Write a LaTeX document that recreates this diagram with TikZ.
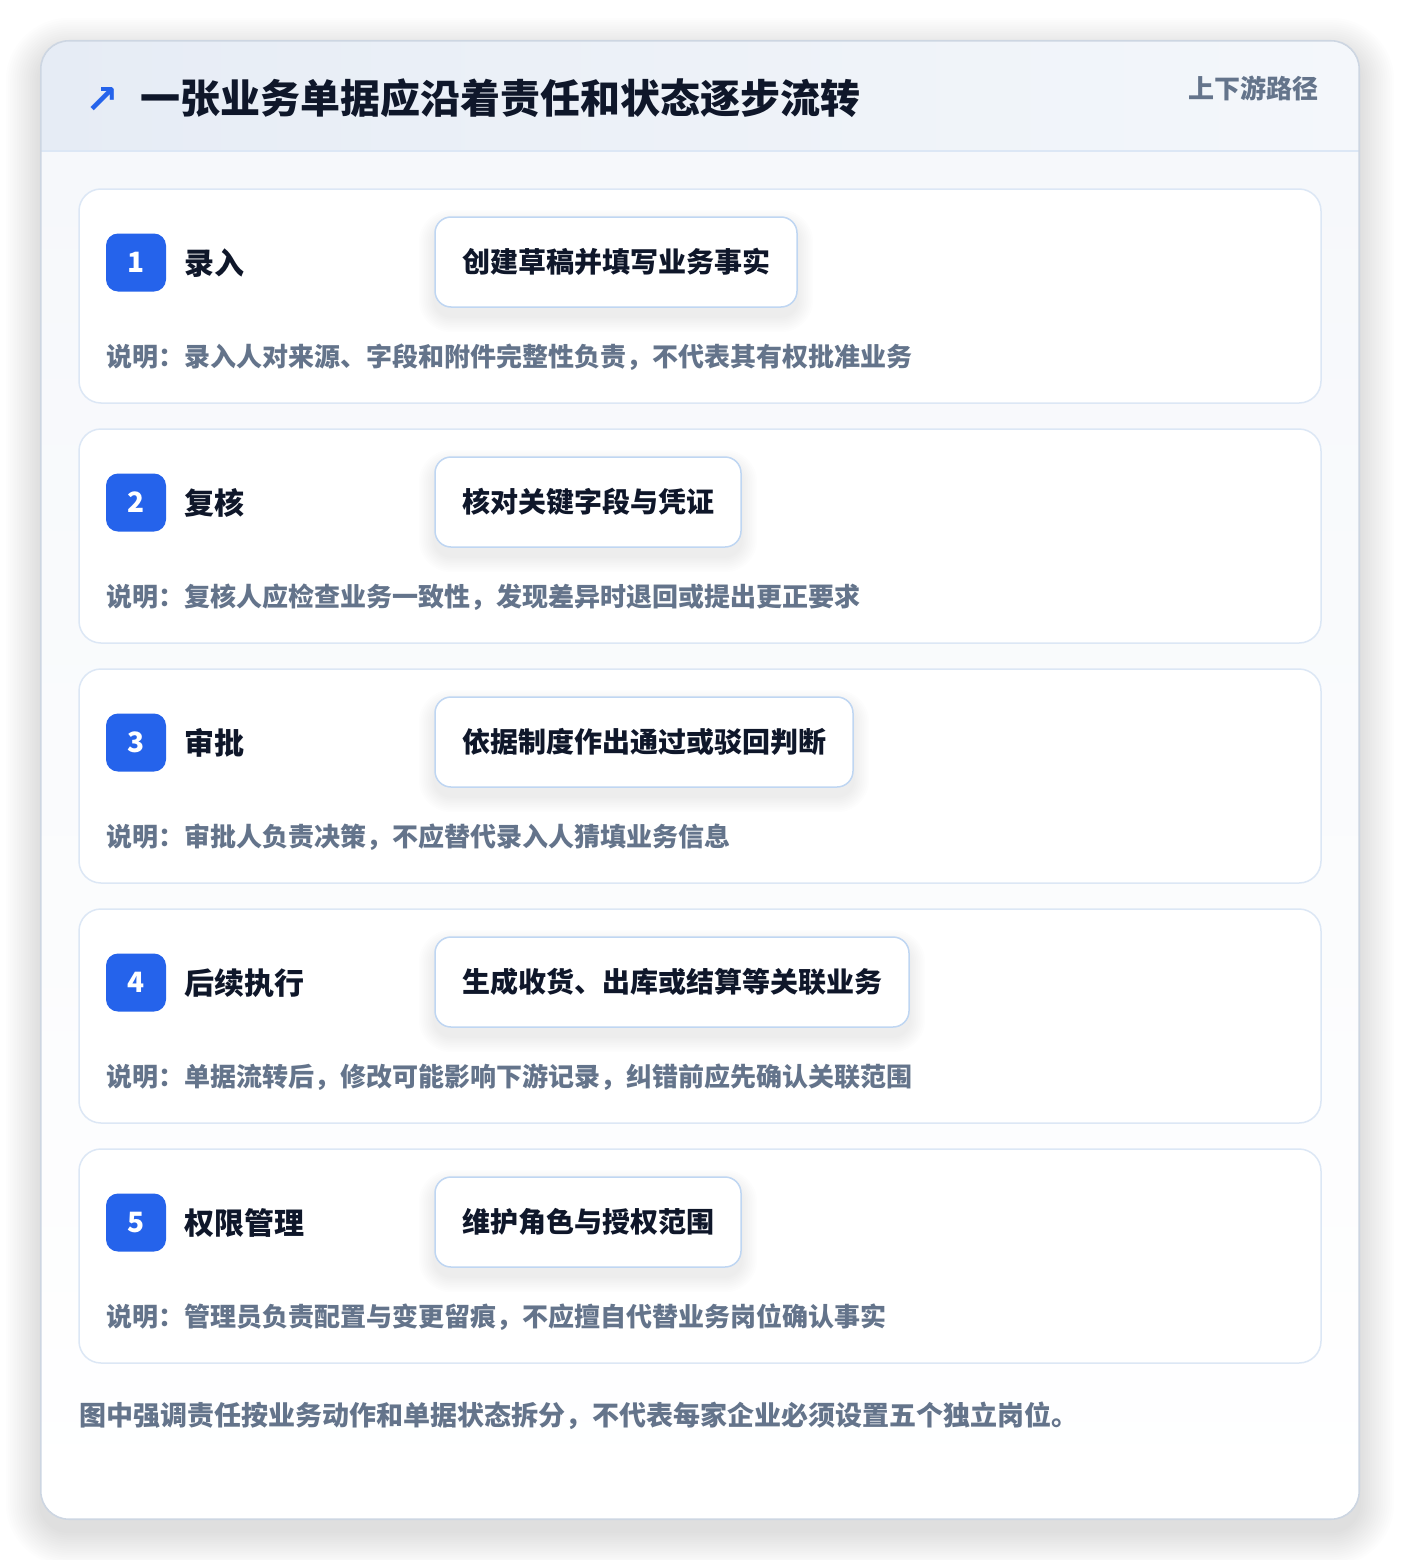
\documentclass[tikz,border=0pt]{standalone}
\usepackage{fontspec}
\setmainfont{Noto Sans CJK SC}
\newfontfamily\heavyfont{Noto Sans CJK SC Black}
\newfontfamily\arrowfont{DejaVu Sans}
\usetikzlibrary{calc}
\definecolor{ink}{HTML}{0F172A}
\definecolor{muted}{HTML}{64748B}
\definecolor{brand}{HTML}{2563EB}
\definecolor{cardline}{HTML}{DCE7F5}
\definecolor{boxline}{HTML}{BFD6F2}
\definecolor{outerline}{HTML}{CDD6E2}
\definecolor{headA}{HTML}{E6ECF5}
\definecolor{headB}{HTML}{F4F7FB}
\definecolor{bodyA}{HTML}{F6F8FB}
\definecolor{shadowc}{HTML}{1E293B}
\pgfdeclarelayer{back}
\pgfdeclarelayer{shade}
\pgfsetlayers{back,shade,main}
\tikzset{
  txt/.style={inner sep=0pt, outer sep=0pt},
  stepcard/.style={rectangle, rounded corners=22pt, draw=cardline, line width=1.5pt, fill=white,
    minimum width=1242pt, minimum height=214pt, inner sep=0pt},
  badge/.style={txt, rectangle, rounded corners=12pt, fill=brand, text=white,
    text height=20.4pt, text depth=0pt,
    minimum width=60pt, minimum height=58pt, font=\fontsize{28}{32}\selectfont\heavyfont},
  steplabel/.style={txt, text=ink, text height=24.9pt, text depth=2.1pt,
    font=\fontsize{30}{36}\selectfont\heavyfont},
  actbox/.style={txt, rectangle, rounded corners=16pt, draw=boxline, line width=1.5pt, fill=white,
    text height=23.2pt, text depth=2pt,
    inner xsep=27pt, minimum height=90pt, text=ink, font=\fontsize{28}{34}\selectfont\bfseries},
  notetext/.style={txt, text=muted, text height=21.6pt, text depth=1.8pt,
    font=\fontsize{26}{32}\selectfont\bfseries},
}
\begin{document}
\begin{tikzpicture}[x=1pt,y=-1pt]
\useasboundingbox (0,0) rectangle (1400,1560);
\begin{pgfonlayer}{back}
\fill[white] (0,0) rectangle (1400,1560);
% outer shadow
\foreach \i [evaluate=\i as \r using 28+2.2*\i] in {1,...,16}
  \fill[shadowc, opacity=0.006, rounded corners=\r pt]
    (41-2.2*\i, 41-2.2*\i+12) rectangle (1359+2.2*\i, 1519+2.2*\i+12);
\node[rectangle, rounded corners=28pt, fill=white, minimum width=1318pt, minimum height=1478pt, inner sep=0pt] (outer) at (700,780) {};
\begin{scope}
  \clip[rounded corners=28pt] (41,41) rectangle (1359,1519);
  \fill[top color=bodyA, bottom color=white] (41,151) rectangle (1359,1519);
  \fill[left color=headA, right color=headB] (41,41) rectangle (1359,151);
\end{scope}
\draw[cardline, line width=1.5pt] (outer.west |- 0,151) -- (outer.east |- 0,151);
\draw[outerline, line width=1.6pt, rounded corners=28pt] (outer.north west) rectangle (outer.south east);
\end{pgfonlayer}

% header
\node[inner sep=0pt, text=brand, font=\fontsize{40}{44}\selectfont\arrowfont\bfseries] (icon) at (102,101) {↗};
\node[txt, anchor=west, text=ink, text height=33.2pt, text depth=2.8pt,
  font=\fontsize{40}{48}\selectfont\heavyfont] (title) at (140,98) {一张业务单据应沿着责任和状态逐步流转};
\node[txt, anchor=east, text=muted, text height=21.6pt, text depth=1.8pt,
  font=\fontsize{26}{32}\selectfont\bfseries] (tag) at (1318,89) {上下游路径};

\foreach \k/\lab/\act/\note [evaluate=\k as \ct using 189+240*(\k-1)] in {
  1/录入/创建草稿并填写业务事实/说明：录入人对来源、字段和附件完整性负责，不代表其有权批准业务,
  2/复核/核对关键字段与凭证/说明：复核人应检查业务一致性，发现差异时退回或提出更正要求,
  3/审批/依据制度作出通过或驳回判断/说明：审批人负责决策，不应替代录入人猜填业务信息,
  4/后续执行/生成收货、出库或结算等关联业务/说明：单据流转后，修改可能影响下游记录，纠错前应先确认关联范围,
  5/权限管理/维护角色与授权范围/说明：管理员负责配置与变更留痕，不应擅自代替业务岗位确认事实}{
  \begin{pgfonlayer}{back}
    \node[stepcard] (card\k) at (700, \ct+107) {};
  \end{pgfonlayer}
  \node[badge] (badge\k) at (136, \ct+73.5) {\k};
  \node[steplabel, anchor=west] (lab\k) at (184, \ct+74) {\lab};
  \node[actbox, anchor=west] (act\k) at (435, \ct+73) {\act};
  \node[notetext, anchor=west] (note\k) at (106, \ct+168) {\note};
  \begin{pgfonlayer}{shade}
    \foreach \j [evaluate=\j as \rr using 16+1.8*\j] in {1,...,9}
      \fill[shadowc, opacity=0.007, rounded corners=\rr pt]
        ($(act\k.north west)+(-1.8*\j,-1.8*\j+9)$) rectangle ($(act\k.south east)+(1.8*\j,1.8*\j+9)$);
  \end{pgfonlayer}
}

\node[txt, anchor=west, text=muted, text height=22.4pt, text depth=1.9pt,
  font=\fontsize{27}{33}\selectfont\bfseries] (foot) at (79,1415) {图中强调责任按业务动作和单据状态拆分，不代表每家企业必须设置五个独立岗位。};
\end{tikzpicture}
\end{document}
